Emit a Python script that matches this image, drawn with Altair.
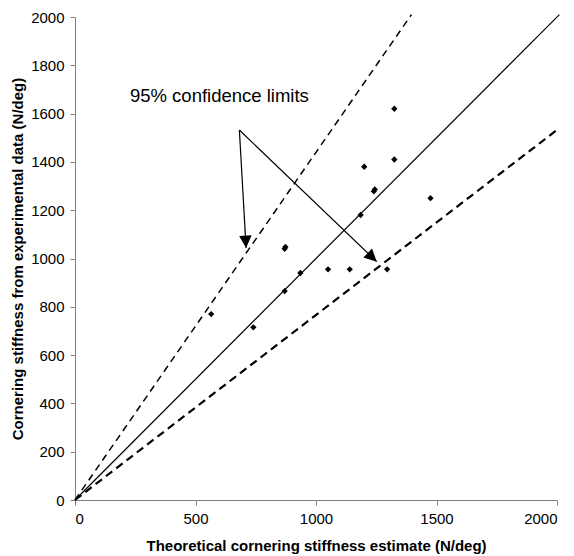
import math
import altair as alt
import pandas as pd

# Experimental vs theoretical cornering stiffness (N/deg)
theory_x = [565, 740, 870, 870, 873, 935, 1050, 1140, 1185, 1200, 1240, 1244, 1295, 1325, 1325, 1475]
exp_y = [770, 715, 865, 1040, 1048, 940, 955, 955, 1180, 1380, 1278, 1286, 955, 1410, 1620, 1250]

# reference lines
fit_x = [0, 2010]
fit_y = [0, 2010]
upper_x = [0, 1396]
upper_y = [0, 2010]
lower_x = [0, 2010]
lower_y = [0, 1540]

# annotation
note_text = "95% confidence limits"
note_x = [228]
note_y = [1648]
arrow_from = (682, 1532)
arrow_tips_x = [710, 1252]
arrow_tips_y = [1043, 987]

W, H = 482, 483
DOM = [0, 2000]

pts = pd.DataFrame({"x": theory_x, "y": exp_y})
fit = pd.DataFrame({"x": fit_x, "y": fit_y})
up = pd.DataFrame({"x": upper_x, "y": upper_y})
lo = pd.DataFrame({"x": lower_x, "y": lower_y})

# arrow angles in pixel space
angles = []
for tx, ty in zip(arrow_tips_x, arrow_tips_y):
    dx = (tx - arrow_from[0]) * W / 2000
    dy = -(ty - arrow_from[1]) * H / 2000
    angles.append(math.degrees(math.atan2(dy, dx)) % 360)
arrows = pd.DataFrame({
    "x": [arrow_from[0]] * 2, "y": [arrow_from[1]] * 2,
    "x2": arrow_tips_x, "y2": arrow_tips_y, "angle": angles,
})
note = pd.DataFrame({"x": note_x, "y": note_y, "t": [note_text]})

xs = alt.Scale(domain=DOM, nice=False)
ys = alt.Scale(domain=DOM, nice=False)

xax = alt.Axis(values=[0, 500, 1000, 1500, 2000], format="d",
               title="Theoretical cornering stiffness estimate (N/deg)",
               labelPadding=6, titleY=50, titleBaseline="alphabetic")
yax = alt.Axis(values=list(range(0, 2001, 200)), format="d",
               title="Cornering stiffness from experimental data (N/deg)",
               labelPadding=6, titleX=-53, titleBaseline="alphabetic")

base_pts = alt.Chart(pts).mark_point(shape="diamond", filled=True, color="black", size=40, opacity=1).encode(
    x=alt.X("x:Q", scale=xs, axis=xax),
    y=alt.Y("y:Q", scale=ys, axis=yax),
)

fit_l = alt.Chart(fit).mark_line(color="black", strokeWidth=1.2, clip=False).encode(x="x:Q", y="y:Q")
up_l = alt.Chart(up).mark_line(color="black", strokeWidth=1.5, strokeDash=[7, 5], clip=False).encode(x="x:Q", y="y:Q")
lo_l = alt.Chart(lo).mark_line(color="black", strokeWidth=2.2, strokeDash=[8, 5], clip=False).encode(x="x:Q", y="y:Q")

arrow_lines = alt.Chart(arrows).mark_rule(color="black", strokeWidth=1.2).encode(
    x="x:Q", y="y:Q", x2="x2:Q", y2="y2:Q")
arrow_heads = alt.Chart(arrows).mark_point(
    shape="M0,0L-1,-0.5L-1,0.5Z", filled=True, color="black", size=625, opacity=1).encode(
    x="x2:Q", y="y2:Q", angle=alt.Angle("angle:Q", scale=None))

txt = alt.Chart(note).mark_text(align="left", baseline="alphabetic", fontSize=18.5,
                                font="Liberation Sans", color="black").encode(x="x:Q", y="y:Q", text="t:N")

chart = alt.layer(fit_l, up_l, lo_l, arrow_lines, arrow_heads, txt, base_pts).properties(
    width=W, height=H,
    autosize=alt.AutoSizeParams(type="none"),
    padding={"left": 67, "top": 9, "right": 9, "bottom": 55},
).configure_view(stroke=None).configure_axis(
    grid=False, domainColor="#808080", tickColor="#808080", tickSize=5,
    labelFont="Liberation Sans", labelFontSize=15, labelColor="black",
    titleFont="Liberation Sans", titleFontSize=15, titleFontWeight="bold", titleColor="black",
)

chart.save("out.html", embed_options={"renderer": "svg", "actions": False})
